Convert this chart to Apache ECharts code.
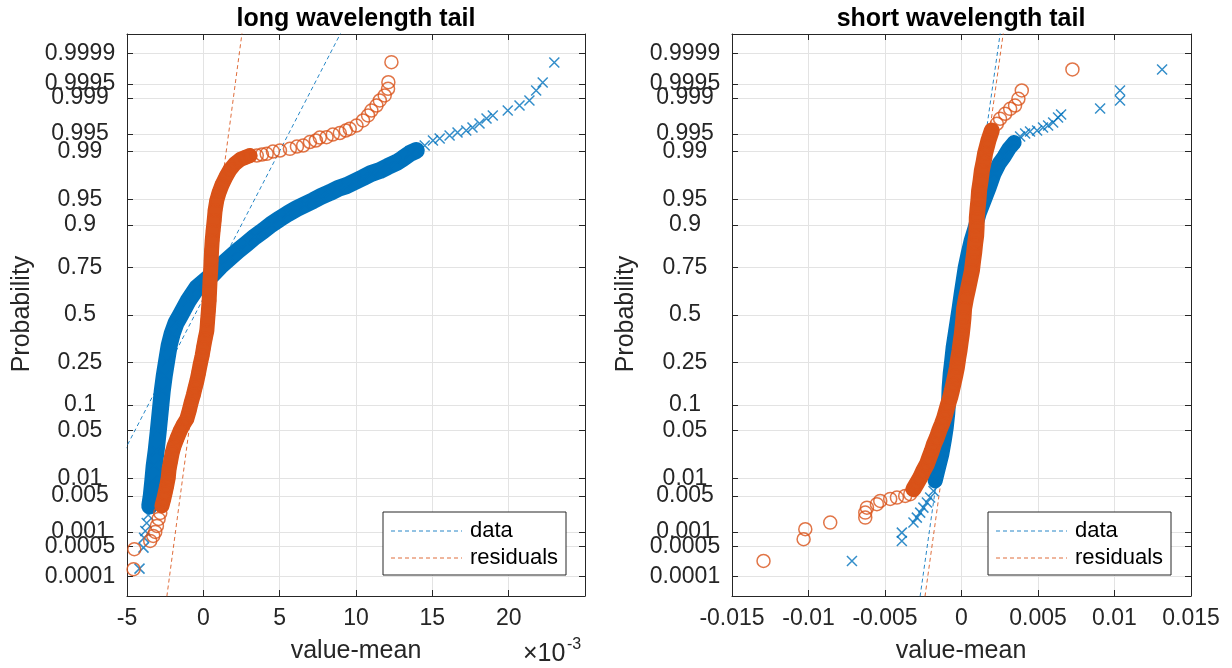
<!DOCTYPE html>
<html><head><meta charset="utf-8">
<script src="https://cdn.jsdelivr.net/npm/echarts@6/dist/echarts.min.js"></script>
<style>html,body{margin:0;padding:0;background:#fff}#c{width:1232px;height:668px}</style>
</head><body><div id="c"></div>
<script>
// ---------- tick labels (probability axis) ----------
const probTicks = [0.0001,0.0005,0.001,0.005,0.01,0.05,0.1,0.25,0.5,0.75,0.9,0.95,0.99,0.995,0.999,0.9995,0.9999];
const probTickLabels = ['0.0001','0.0005','0.001','0.005','0.01','0.05','0.1','0.25','0.5','0.75','0.9','0.95','0.99','0.995','0.999','0.9995','0.9999'];

// ---------- long wavelength tail (x in units of 1e-3, q = normal quantile) ----------
const longDataX = [-4.18,-3.92,-3.88,-3.80,-3.71,-3.61,-3.51,-3.41,-3.31,-3.22,-3.09,-2.95,-2.82,-2.69,-2.56,-2.40,-2.24,-2.04,-1.78,-1.52,-0.99,-0.42,0.12,0.66,1.16,1.75,2.27,2.84,3.39,3.93,4.43,5.02,5.54,6.11,6.65,7.20,7.70,8.29,8.81,9.38,9.92,10.46,10.97,11.56,12.08,12.65,13.06,13.52,13.95,14.50,15.04,15.48,16.13,16.65,17.22,17.63,18.09,18.55,18.96,19.94,20.71,21.36,21.80,22.23,22.99];
const longDataQ = [-3.61,-3.311,-3.173,-3.074,-2.960,-2.846,-2.717,-2.575,-2.361,-2.147,-1.934,-1.649,-1.364,-1.079,-0.865,-0.651,-0.437,-0.266,-0.110,-0.010,0.204,0.389,0.489,0.588,0.702,0.816,0.916,1.016,1.116,1.201,1.287,1.372,1.443,1.515,1.572,1.629,1.686,1.743,1.800,1.842,1.899,1.956,2.013,2.056,2.113,2.170,2.227,2.298,2.341,2.412,2.484,2.512,2.555,2.598,2.626,2.669,2.726,2.797,2.840,2.911,2.982,3.054,3.196,3.310,3.595];
const longResX = [-4.57,-4.52,-3.48,-3.28,-3.15,-3.04,-2.93,-2.82,-2.71,-2.59,-2.50,-2.40,-2.30,-2.24,-2.14,-2.04,-1.91,-1.71,-1.52,-1.32,-1.08,-0.93,-0.80,-0.65,-0.54,-0.42,-0.31,-0.21,-0.08,0.01,0.12,0.23,0.28,0.33,0.38,0.41,0.44,0.48,0.51,0.54,0.58,0.64,0.71,0.77,0.88,1.03,1.23,1.49,1.75,2.08,2.41,2.73,3.06,3.50,3.84,4.15,4.56,5.02,5.67,6.13,6.54,6.98,7.37,7.63,8.07,8.48,8.94,9.33,9.59,10.03,10.46,10.79,11.01,11.34,11.56,11.88,12.10,12.12,12.32];
const longResQ = [-3.619,-3.334,-3.216,-3.145,-3.088,-3.002,-2.903,-2.817,-2.717,-2.618,-2.532,-2.432,-2.318,-2.190,-2.076,-1.962,-1.862,-1.748,-1.649,-1.563,-1.478,-1.364,-1.250,-1.136,-1.036,-0.936,-0.822,-0.708,-0.580,-0.466,-0.338,-0.224,-0.081,0.061,0.204,0.346,0.489,0.631,0.774,0.916,1.059,1.201,1.344,1.486,1.629,1.743,1.857,1.971,2.070,2.156,2.213,2.241,2.270,2.270,2.284,2.294,2.327,2.341,2.365,2.398,2.412,2.462,2.484,2.526,2.531,2.569,2.590,2.626,2.650,2.697,2.769,2.840,2.911,2.982,3.054,3.125,3.220,3.314,3.599];
const longFitMu = [-0.563, 0.07];      // data, residuals reference lines
const longFitSigma = [2.383, 0.614];

// ---------- short wavelength tail ----------
const shortDataX = [-0.00716,-0.00390,-0.00390,-0.00314,-0.00292,-0.00270,-0.00249,-0.00226,-0.00205,-0.00183,-0.00172,-0.00151,-0.00128,-0.00113,-0.00100,-0.00090,-0.00084,-0.00081,-0.00074,-0.00064,-0.00055,-0.00041,-0.00028,-0.00015,-0.00002,0.00011,0.00024,0.00043,0.00063,0.00089,0.00115,0.00148,0.00181,0.00213,0.00246,0.00279,0.00311,0.00344,0.00383,0.00416,0.00448,0.00494,0.00533,0.00566,0.00599,0.00631,0.00651,0.00906,0.01036,0.01036,0.01311];
const shortDataQ = [-3.501,-3.216,-3.098,-2.955,-2.884,-2.813,-2.742,-2.670,-2.599,-2.504,-2.361,-2.176,-1.976,-1.791,-1.606,-1.406,-1.221,-1.036,-0.836,-0.651,-0.466,-0.266,-0.081,0.104,0.304,0.489,0.674,0.873,1.059,1.244,1.443,1.629,1.814,2.013,2.156,2.256,2.370,2.455,2.541,2.583,2.612,2.626,2.669,2.697,2.740,2.811,2.854,2.940,3.054,3.196,3.495];
const shortResX = [-0.01294,-0.01032,-0.01021,-0.00858,-0.00629,-0.00629,-0.00618,-0.00553,-0.00531,-0.00466,-0.00422,-0.00368,-0.00335,-0.00314,-0.00290,-0.00270,-0.00250,-0.00226,-0.00211,-0.00194,-0.00179,-0.00161,-0.00146,-0.00128,-0.00113,-0.00100,-0.00087,-0.00074,-0.00063,-0.00053,-0.00041,-0.00030,-0.00022,-0.00013,-0.00006,0.00002,0.00008,0.00013,0.00017,0.00030,0.00043,0.00057,0.00068,0.00076,0.00083,0.00089,0.00096,0.00099,0.00100,0.00105,0.00111,0.00115,0.00125,0.00133,0.00145,0.00154,0.00166,0.00176,0.00198,0.00231,0.00252,0.00285,0.00318,0.00350,0.00372,0.00394,0.00725];
const shortResQ = [-3.501,-3.192,-3.049,-2.955,-2.884,-2.813,-2.742,-2.693,-2.646,-2.618,-2.599,-2.575,-2.551,-2.479,-2.390,-2.314,-2.219,-2.123,-2.033,-1.934,-1.834,-1.744,-1.649,-1.553,-1.463,-1.364,-1.264,-1.174,-1.079,-0.983,-0.865,-0.747,-0.623,-0.509,-0.395,-0.271,-0.152,-0.038,0.090,0.247,0.375,0.517,0.631,0.774,0.888,1.016,1.130,1.258,1.386,1.515,1.643,1.771,1.914,2.056,2.184,2.298,2.398,2.484,2.626,2.722,2.793,2.864,2.935,2.982,3.078,3.196,3.495];
const shortFitMu = [-0.00009, 0.00017];
const shortFitSigma = [0.000653, 0.000638];

// ---------- helpers ----------
function norminv(p){
  const a=[-3.969683028665376e+01,2.209460984245205e+02,-2.759285104469687e+02,1.383577518672690e+02,-3.066479806614716e+01,2.506628277459239e+00];
  const b=[-5.447609879822406e+01,1.615858368580409e+02,-1.556989798598866e+02,6.680131188771972e+01,-1.328068155288572e+01];
  const c=[-7.784894002430293e-03,-3.223964580411365e-01,-2.400758277161838e+00,-2.549732539343734e+00,4.374664141464968e+00,2.938163982698783e+00];
  const d=[7.784695709041462e-03,3.224671290700398e-01,2.445134137142996e+00,3.754408661907416e+00];
  const pl=0.02425; let q,r;
  if(p<pl){q=Math.sqrt(-2*Math.log(p));return (((((c[0]*q+c[1])*q+c[2])*q+c[3])*q+c[4])*q+c[5])/((((d[0]*q+d[1])*q+d[2])*q+d[3])*q+1);}
  if(p>1-pl){q=Math.sqrt(-2*Math.log(1-p));return -(((((c[0]*q+c[1])*q+c[2])*q+c[3])*q+c[4])*q+c[5])/((((d[0]*q+d[1])*q+d[2])*q+d[3])*q+1);}
  q=p-0.5;r=q*q;return (((((a[0]*r+a[1])*r+a[2])*r+a[3])*r+a[4])*r+a[5])*q/(((((b[0]*r+b[1])*r+b[2])*r+b[3])*r+b[4])*r+1);
}
const probZ = probTicks.map(norminv);
function fmtProb(v){
  let best=0, bd=1e9;
  probZ.forEach((z,i)=>{const dd=Math.abs(z-v); if(dd<bd){bd=dd;best=i;}});
  return probTickLabels[best];
}

const FONT = "'Liberation Sans', Arial, Helvetica, sans-serif";
const AX = '#262626';
const GRIDC = '#e3e3e3';
const BLUE = '#0072BD';
const RED = '#D95319';
const X_SYMBOL = 'path://M0,0L10,10M10,0L0,10';

function xAxes(grid, min, max, interval, showMax){
  const line = {show:true, onZero:false, lineStyle:{color:AX, width:1}};
  return [
    {gridIndex:grid, type:'value', min, max, interval, position:'bottom', axisLine:line,
     axisTick:{show:true, inside:true, length:6, lineStyle:{color:AX}},
     axisLabel:{show:true, fontSize:23, color:AX, fontFamily:FONT, margin:11, showMaxLabel:showMax, showMinLabel:true},
     splitLine:{show:true, lineStyle:{color:GRIDC, width:1}}},
    {gridIndex:grid, type:'value', min, max, interval, position:'top', axisLine:line,
     axisTick:{show:true, inside:true, length:6, lineStyle:{color:AX}},
     axisLabel:{show:false}, splitLine:{show:false}}
  ];
}
function yAxes(grid){
  const line = {show:true, onZero:false, lineStyle:{color:AX, width:1}};
  return [
    {gridIndex:grid, type:'value', min:-4, max:4, position:'left', axisLine:line,
     axisTick:{show:true, inside:true, length:6, customValues:probZ, lineStyle:{color:AX}},
     axisLabel:{show:true, customValues:probZ, formatter:fmtProb, align:'center', margin:47, fontSize:23, color:AX, fontFamily:FONT},
     splitLine:{show:true, lineStyle:{color:GRIDC, width:1}}},
    {gridIndex:grid, type:'value', min:-4, max:4, position:'right', axisLine:line,
     axisTick:{show:true, inside:true, length:6, customValues:probZ, lineStyle:{color:AX}},
     axisLabel:{show:false}, splitLine:{show:false}}
  ];
}
function scatterS(name, xi, yi, xs, qs, color, isX, z){
  return {type:'scatter', name, xAxisIndex:xi, yAxisIndex:yi,
    data: xs.map((x,i)=>[x, qs[i]]),
    symbol: isX ? X_SYMBOL : 'circle', symbolSize: isX ? 10 : 13,
    itemStyle:{color:'rgba(0,0,0,0)', borderColor:color, borderWidth:1.5},
    z, silent:true, animation:false};
}
function bandS(xi, yi, xs, qs, from, to, color, width, z){
  return {type:'line', xAxisIndex:xi, yAxisIndex:yi,
    data: xs.slice(from,to).map((x,i)=>[x, qs[from+i]]),
    symbol:'none', lineStyle:{color, width, cap:'round', join:'round'}, z, silent:true, animation:false};
}
function fitS(xi, yi, mu, sigma, color){
  const qEnds = [-4.5, 4.5];
  return {type:'line', xAxisIndex:xi, yAxisIndex:yi,
    data: qEnds.map(q=>[mu+sigma*q, q]), symbol:'none',
    lineStyle:{color, width:1, type:[4,3], opacity:0.85}, z:1, silent:true, animation:false};
}

const chart = echarts.init(document.getElementById('c'), null, {renderer:'canvas'});

function legendBox(x0, y0){
  const w=183, h=63;
  return [
    {type:'rect', shape:{x:x0, y:y0, width:w, height:h}, style:{fill:'#fff', stroke:AX, lineWidth:1}, z:100},
    {type:'line', shape:{x1:x0+8, y1:y0+19, x2:x0+79, y2:y0+19}, style:{stroke:BLUE, lineWidth:1, lineDash:[4,3], opacity:0.85}, z:101},
    {type:'line', shape:{x1:x0+8, y1:y0+46, x2:x0+79, y2:y0+46}, style:{stroke:RED, lineWidth:1, lineDash:[4,3], opacity:0.85}, z:101},
    {type:'text', x:x0+87, y:y0+19, style:{text:'data', fontSize:22, fontFamily:FONT, fill:'#000', align:'left', verticalAlign:'middle'}, z:101},
    {type:'text', x:x0+87, y:y0+46, style:{text:'residuals', fontSize:22, fontFamily:FONT, fill:'#000', align:'left', verticalAlign:'middle'}, z:101}
  ];
}

const option = {
  animation:false,
  backgroundColor:'#fff',
  grid:[
    {left:127, top:34, width:458, height:562},
    {left:732, top:34, width:459, height:562}
  ],
  xAxis:[...xAxes(0,-5,25,5,false), ...xAxes(1,-0.015,0.015,0.005,true)],
  yAxis:[...yAxes(0), ...yAxes(1)],
  series:[
    fitS(0,0,longFitMu[0],longFitSigma[0],BLUE),
    fitS(0,0,longFitMu[1],longFitSigma[1],RED),
    bandS(0,0,longDataX,longDataQ,6,49,BLUE,17,2),
    scatterS('data',0,0,longDataX,longDataQ,BLUE,true,3),
    bandS(0,0,longResX,longResQ,8,53,RED,15,4),
    scatterS('residuals',0,0,longResX,longResQ,RED,false,5),

    fitS(2,2,shortFitMu[0],shortFitSigma[0],BLUE),
    fitS(2,2,shortFitMu[1],shortFitSigma[1],RED),
    bandS(2,2,shortDataX,shortDataQ,10,38,BLUE,15,2),
    scatterS('data',2,2,shortDataX,shortDataQ,BLUE,true,3),
    bandS(2,2,shortResX,shortResQ,13,59,RED,16,4),
    scatterS('residuals',2,2,shortResX,shortResQ,RED,false,5)
  ],
  graphic:[
    {type:'text', x:356, y:19, style:{text:'long wavelength tail', fontSize:25, fontWeight:'bold', fontFamily:FONT, fill:'#000', align:'center', verticalAlign:'middle'}},
    {type:'text', x:961, y:19, style:{text:'short wavelength tail', fontSize:25, fontWeight:'bold', fontFamily:FONT, fill:'#000', align:'center', verticalAlign:'middle'}},
    {type:'text', x:22, y:314, rotation:Math.PI/2, style:{text:'Probability', fontSize:25, fontFamily:FONT, fill:AX, align:'center', verticalAlign:'middle'}},
    {type:'text', x:626, y:314, rotation:Math.PI/2, style:{text:'Probability', fontSize:25, fontFamily:FONT, fill:AX, align:'center', verticalAlign:'middle'}},
    {type:'text', x:356, y:651, style:{text:'value-mean', fontSize:25, fontFamily:FONT, fill:AX, align:'center', verticalAlign:'middle'}},
    {type:'text', x:961, y:651, style:{text:'value-mean', fontSize:25, fontFamily:FONT, fill:AX, align:'center', verticalAlign:'middle'}},
    {type:'text', x:523, y:654, style:{text:'×10', fontSize:25, fontFamily:FONT, fill:AX, align:'left', verticalAlign:'middle'}},
    {type:'text', x:567, y:645, style:{text:'-3', fontSize:16, fontFamily:FONT, fill:AX, align:'left', verticalAlign:'middle'}},
    ...legendBox(383, 512),
    ...legendBox(988, 512)
  ]
};
chart.setOption(option);
</script></body></html>
